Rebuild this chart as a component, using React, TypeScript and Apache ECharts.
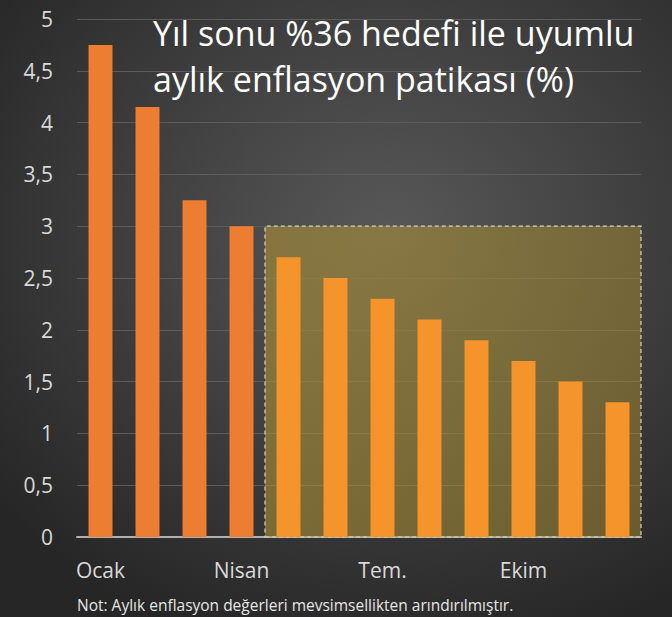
import React, { useEffect, useRef } from "react";
import * as echarts from "echarts";

const months = ["Ocak", "Şubat", "Mart", "Nisan", "Mayıs", "Haziran", "Tem.", "Ağustos", "Eylül", "Ekim", "Kasım", "Aralık"];
const values = [4.75, 4.15, 3.25, 3.0, 2.7, 2.5, 2.3, 2.1, 1.9, 1.7, 1.5, 1.3];
const yTicks = ["0", "0,5", "1", "1,5", "2", "2,5", "3", "3,5", "4", "4,5", "5"];
const highlightStart = 4; // index of Mayıs
const highlightEnd = 12;
const highlightTop = 3;
const titleText = "Yıl sonu %36 hedefi ile uyumlu\naylık enflasyon patikası (%)";
const noteText = "Not: Aylık enflasyon değerleri mevsimsellikten arındırılmıştır.";

const FONT = "'Open Sans', 'Noto Sans', sans-serif";

export default function App() {
  const ref = useRef<HTMLDivElement>(null);
  useEffect(() => {
    document.body.style.margin = "0";
    const chart = echarts.init(ref.current!, null, { renderer: "svg" });
    chart.setOption({
      animation: false,
      backgroundColor: "transparent",
      title: [
        {
          text: titleText,
          left: 148,
          top: 5,
          textStyle: { color: "#ffffff", fontFamily: FONT, fontSize: 34, fontWeight: "normal", lineHeight: 46 },
        },
        {
          text: noteText,
          left: 72,
          top: 592,
          textStyle: { color: "#e6e6e6", fontFamily: FONT, fontSize: 15.5, fontWeight: "normal" },
        },
      ],
      grid: { left: 77, right: 31, top: 19, bottom: 80, containLabel: false },
      xAxis: [
        {
          type: "category",
          data: months,
          axisLine: { lineStyle: { color: "#b0b0b0", width: 2 } },
          axisTick: { show: false },
          axisLabel: {
            interval: 2,
            color: "#d9d9d9",
            fontFamily: FONT,
            fontSize: 21,
            margin: 22,
          },
        },
        { type: "value", min: 0, max: 12, show: false },
      ],
      yAxis: {
        type: "value",
        min: 0,
        max: 5,
        interval: 0.5,
        axisLine: { show: false },
        axisTick: { show: false },
        splitLine: { lineStyle: { color: "#5c5c5c", width: 1 } },
        axisLabel: {
          color: "#d9d9d9",
          fontFamily: FONT,
          fontSize: 21,
          margin: 24,
          formatter: (v: number) => yTicks[Math.round(v * 2)],
        },
      },
      series: [
        {
          type: "line",
          xAxisIndex: 1,
          data: [[highlightStart, 0]],
          showSymbol: false,
          symbol: "none",
          lineStyle: { opacity: 0 },
          silent: true,
          z: 1,
          markArea: {
            silent: true,
            z: 1,
            itemStyle: {
              color: new echarts.graphic.LinearGradient(0, 0, 1, 0, [
                { offset: 0, color: "rgba(180,150,52,0.55)" },
                { offset: 1, color: "rgba(166,138,48,0.5)" },
              ]),
              borderColor: "#d9d5b8",
              borderWidth: 1.2,
              borderType: [4, 3],
            },
            data: [[{ coord: [highlightStart, 0] }, { coord: [highlightEnd, highlightTop] }]],
          },
        },
        {
          type: "bar",
          data: values,
          barWidth: "51%",
          z: 3,
          itemStyle: {
            color: (p: any) => (p.dataIndex < highlightStart ? "#ED7D31" : "#F4942A"),
          },
        },
      ],
    });
    return () => chart.dispose();
  }, []);
  return (
    <div
      ref={ref}
      style={{
        width: 672,
        height: 617,
        background: "radial-gradient(ellipse 75% 70% at 58% 38%, #585858 0%, #424242 45%, #262626 100%)",
      }}
    />
  );
}
